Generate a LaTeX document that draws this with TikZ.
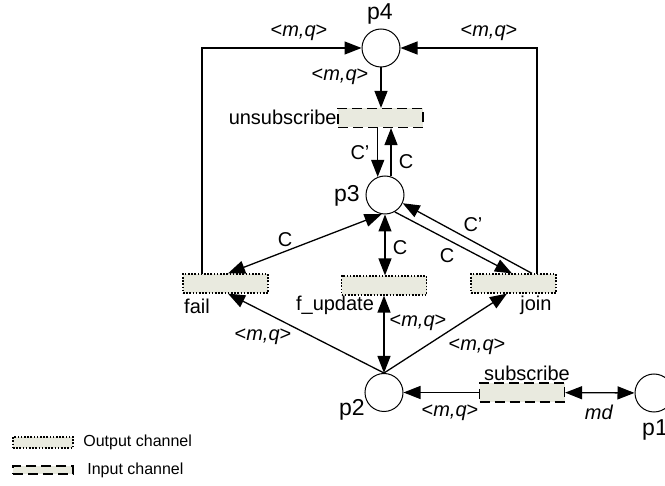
\documentclass[tikz,border=0pt]{standalone}
\usepackage{fontspec}
\setmainfont{Liberation Sans}
\usetikzlibrary{arrows.meta}
\definecolor{chanfill}{RGB}{233,234,223}

\begin{document}
\begin{tikzpicture}[x=0.5pt,y=-0.5pt,
	every node/.style={font=\fontsize{10}{12}\selectfont},
	place/.style={draw,circle,line width=0.5pt,minimum size=19pt,inner sep=0pt},
	trans/.style={draw,line width=0.6pt,fill=chanfill,minimum width=42.5pt,minimum height=9.5pt,inner sep=0pt},
	outch/.style={trans,dash pattern=on 0.8pt off 0.8pt},
	inch/.style={trans,dash pattern=on 5pt off 2.5pt},
	arc/.style={line width=0.65pt,-{Triangle[length=8.5pt,width=6.5pt]}},
	biarc/.style={line width=0.65pt,{Triangle[length=8.5pt,width=6.5pt]}-{Triangle[length=8.5pt,width=6.5pt]}},
	lbl/.style={inner sep=0pt},
	pname/.style={inner sep=0pt,font=\fontsize{11.5}{13}\selectfont}]
	\clip (0,0) rectangle (665,486);
	% Places
	\node[place] (p4) at (381,48) {};
	\node[place] (p3) at (385,195) {};
	\node[place] (p2) at (384,392.5) {};
	\node[place] (p1) at (654,393) {};
	\node[pname] (p4name) at (380,14) {p4};
	\node[pname] (p3name) at (347,196) {p3};
	\node[pname] (p2name) at (352,410) {p2};
	\node[pname] (p1name) at (655,430) {p1};
	% Transitions (channels)
	\node[inch] (unsub) at (380.5,118) {};
	\node[outch] (fail) at (225.5,283.5) {};
	\node[outch] (fupd) at (384,285.5) {};
	\node[outch] (join) at (513.5,283.5) {};
	\node[inch] (subscr) at (522,392.5) {};
	\node[lbl, anchor=east] (unsubname) at (337,117) {unsubscribe};
	\node[lbl] (failname) at (197,306) {fail};
	\node[lbl] (fupdname) at (335,305) {f\_update};
	\node[lbl] (joinname) at (536,305) {join};
	\node[lbl] (subscrname) at (527,373) {subscribe};
	% Arcs back into p4
	\coordinate (failL) at (202,274);
	\coordinate (joinR) at (537,274);
	\draw[arc] (failL) |- (p4);
	\draw[arc] (joinR) |- (p4);
	\node[lbl] (mq1) at (299,33) {<\textit{m,q}>};
	\node[lbl] (mq2) at (489,33) {<\textit{m,q}>};
	\draw[arc] (p4) -- (p4 |- unsub.north);
	\node[lbl] (mq3) at (340,77) {<\textit{m,q}>};
	% Between unsubscribe and p3
	\draw[arc] (unsub.south -| p3.112) -- (p3.112);
	\draw[arc] (p3.72) -- (p3.72 |- unsub.south);
	\node[lbl] (c1) at (360,153) {C’};
	\node[lbl] (c2) at (406,162) {C};
	% Around p3
	\draw[biarc] ([xshift=1.25pt]fail.north) -- (p3.260);
	\node[lbl] (c3) at (285,240) {C};
	\draw[biarc] (p3) -- (p3 |- fupd.north);
	\node[lbl] (c4) at (400,248) {C};
	\draw[arc] (p3.300) -- ([xshift=-0.75pt]join.north);
	\draw[arc] ([xshift=9.25pt]join.north) -- (p3.335);
	\node[lbl] (c5) at (473,225) {C’};
	\node[lbl] (c6) at (447,256) {C};
	% Around p2
	\draw[arc] (p2.north) -- ([xshift=1.25pt]fail.south);
	\draw[biarc] (p2.north) -- (fupd.south);
	\draw[arc] (p2.north) -- ([xshift=-3.25pt]join.south);
	\node[lbl] (mq4) at (263,337) {<\textit{m,q}>};
	\node[lbl] (mq5) at (418,323) {<\textit{m,q}>};
	\node[lbl] (mq6) at (477,347) {<\textit{m,q}>};
	\draw[arc] (subscr) -- (p2);
	\node[lbl] (mq7) at (450,413) {<\textit{m,q}>};
	\draw[biarc] (subscr) -- (p1);
	\node[lbl] (md) at (599,412) {\textit{md}};
	% Legend
	\node[outch, minimum width=30pt, minimum height=5.5pt] (outkey) at (43,442.5) {};
	\node[lbl, anchor=west, font=\fontsize{8}{10}\selectfont] (outtxt) at (83,442) {Output channel};
	\node[inch, minimum width=30pt, minimum height=4pt] (inkey) at (43,470) {};
	\node[lbl, anchor=west, font=\fontsize{8}{10}\selectfont] (intxt) at (87,470) {Input channel};
\end{tikzpicture}
\end{document}
